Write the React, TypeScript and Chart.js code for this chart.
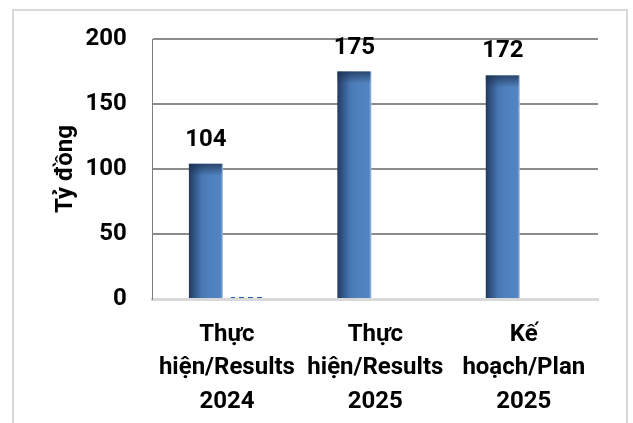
import React, { useEffect, useRef } from "react";
import { Chart, registerables } from "chart.js";

Chart.register(...registerables);

const categories: string[][] = [
  ["Thực", "hiện/Results", "2024"],
  ["Thực", "hiện/Results", "2025"],
  ["Kế", "hoạch/Plan", "2025"],
];
const mainValues: number[] = [104, 175, 172];
const secondValues: number[] = [1.5, 0, 0];
const yTitle = "Tỷ đồng";
const yMin = 0;
const yMax = 200;
const yStep = 50;

const FONT = "Roboto";

function makeDashPattern(): CanvasPattern | string {
  const c = document.createElement("canvas");
  c.width = 9;
  c.height = 4;
  const g = c.getContext("2d");
  if (!g) return "#1f5fb5";
  g.fillStyle = "#1f5fb5";
  g.fillRect(0, 0, 5, 4);
  const p = g.createPattern(c, "repeat");
  return p || "#1f5fb5";
}

const barStylePlugin = {
  id: "barStyle",
  beforeDatasetsDraw(chart: any) {
    const ctx = chart.ctx;
    const meta = chart.getDatasetMeta(0);
    meta.data.forEach((el: any) => {
      const { x, width } = el.getProps(["x", "width"], true);
      const l = x - width / 2;
      const r = x + width / 2;
      const g = ctx.createLinearGradient(l, 0, r, 0);
      g.addColorStop(0, "#233b5d");
      g.addColorStop(0.12, "#2e4f7d");
      g.addColorStop(0.38, "#4878b4");
      g.addColorStop(0.6, "#4f81bd");
      g.addColorStop(0.93, "#5184c1");
      g.addColorStop(0.97, "#7ea3d3");
      g.addColorStop(1, "#a9c2e4");
      el.options = { ...el.options, backgroundColor: g };
    });
  },
  afterDatasetsDraw(chart: any) {
    const ctx = chart.ctx;
    const meta = chart.getDatasetMeta(0);
    ctx.save();
    meta.data.forEach((el: any, i: number) => {
      const { x, y, width } = el.getProps(["x", "y", "width"], true);
      const l = x - width / 2;
      const g = ctx.createLinearGradient(0, y, 0, y + 12);
      g.addColorStop(0, "rgba(28,48,80,0.75)");
      g.addColorStop(1, "rgba(28,48,80,0)");
      ctx.fillStyle = g;
      ctx.fillRect(l, y, width - 1, 12);
      ctx.fillStyle = "#000";
      ctx.font = `700 24px ${FONT}`;
      ctx.textAlign = "center";
      ctx.textBaseline = "alphabetic";
      ctx.fillText(String(mainValues[i]), x, y - 18);
    });
    ctx.restore();
  },
};

export default function App() {
  const ref = useRef<HTMLCanvasElement | null>(null);
  useEffect(() => {
    if (!ref.current) return;
    const chart = new Chart(ref.current, {
      type: "bar",
      data: {
        labels: categories,
        datasets: [
          {
            label: "Main",
            data: mainValues,
            backgroundColor: () => "#4f81bd",
            borderWidth: 0,
            categoryPercentage: 0.566,
            barPercentage: 0.81,
          },
          {
            label: "Other",
            data: secondValues,
            backgroundColor: makeDashPattern() as any,
            borderWidth: 0,
            categoryPercentage: 0.566,
            barPercentage: 0.81,
          },
        ],
      },
      options: {
        animation: false,
        responsive: false,
        maintainAspectRatio: false,
        layout: { padding: { top: 28, right: 28, left: 0, bottom: 0 } },
        plugins: {
          legend: { display: false },
          tooltip: { enabled: false },
        },
        scales: {
          x: {
            grid: { display: false, drawTicks: false },
            border: { display: true, color: "#d9d9d9", width: 3 },
            ticks: {
              color: "#000",
              font: { family: FONT, size: 24, weight: 700, lineHeight: 1.4 },
              padding: 19,
              maxRotation: 0,
              autoSkip: false,
            },
            afterFit(scale: any) {
              scale.height = 132;
              scale.paddingLeft = 0;
              scale.paddingRight = 0;
            },
          },
          y: {
            min: yMin,
            max: yMax,
            grid: {
              drawTicks: false,
              color: (c: any) => (c.tick && c.tick.value === 0 ? "rgba(0,0,0,0)" : "#8c8c8c"),
              lineWidth: 2,
            },
            border: { display: true, color: "#7f7f7f", width: 1 },
            ticks: {
              stepSize: yStep,
              color: "#000",
              font: { family: FONT, size: 24, weight: 700 },
              padding: 26,
            },
            title: {
              display: true,
              text: yTitle,
              color: "#000",
              font: { family: FONT, size: 24, weight: 700, lineHeight: 1.2 },
              padding: { top: 38, bottom: 0 },
            },
            afterFit(scale: any) {
              scale.width = 138.7;
              scale.paddingTop = 0;
              scale.paddingBottom = 0;
            },
          },
        },
      },
      plugins: [barStylePlugin],
    });
    return () => chart.destroy();
  }, []);

  return (
    <div
      style={{
        position: "fixed",
        left: 12,
        top: 9,
        width: 616,
        height: 440,
        border: "2px solid #d9d9d9",
        boxSizing: "border-box",
        background: "#fff",
      }}
    >
      <canvas ref={ref} width={612} height={420} style={{ display: "block", width: 612, height: 420 }} />
    </div>
  );
}
